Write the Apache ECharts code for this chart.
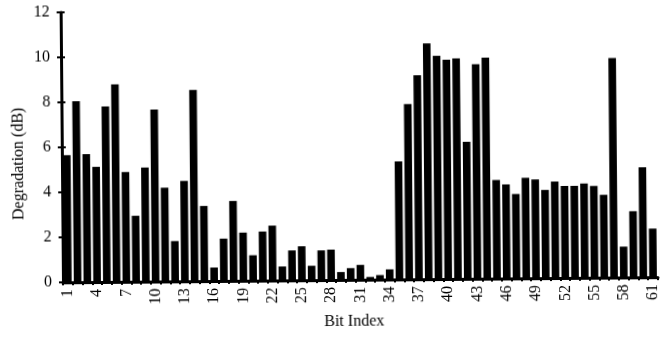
<!DOCTYPE html>
<html>
<head>
<meta charset="utf-8">
<script src="https://cdn.jsdelivr.net/npm/echarts@6/dist/echarts.min.js"></script>
<style>
  html, body { margin: 0; padding: 0; background: #fff; overflow: hidden; }
  #chart {
    position: absolute; left: 0; top: 0; width: 662px; height: 337px;
    transform: rotate(-0.5deg); transform-origin: 50% 50%;
  }
</style>
</head>
<body>
<div id="chart"></div>
<script>
// Bit positions along the x axis
const bitIndex = [
  '1','2','3','4','5','6','7','8','9','10',
  '11','12','13','14','15','16','17','18','19','20',
  '21','22','23','24','25','26','27','28','29','30',
  '31','32','33','34','35','36','37','38','39','40',
  '41','42','43','44','45','46','47','48','49','50',
  '51','52','53','54','55','56','57','58','59','60','61'
];

// Bits that carry a tick label
const labelledBits = ['1','4','7','10','13','16','19','22','25','28','31',
  '34','37','40','43','46','49','52','55','58','61'];

// Degradation per bit, in dB
const degradation = [
  5.65, 8.04, 5.69, 5.12, 7.80, 8.78, 4.88, 2.93, 5.07, 7.64,
  4.17, 1.79, 4.46, 8.50, 3.34, 0.60, 1.88, 3.55, 2.14, 1.13,
  2.18, 2.44, 0.62, 1.33, 1.51, 0.64, 1.32, 1.35, 0.35, 0.52,
  0.66, 0.12, 0.20, 0.45, 5.25, 7.79, 9.07, 10.48, 9.92, 9.75,
  9.80, 6.09, 9.53, 9.82, 4.38, 4.18, 3.75, 4.47, 4.39, 3.92,
  4.29, 4.09, 4.09, 4.19, 4.08, 3.68, 9.76, 1.37, 2.94, 4.89, 2.16
];

// Value axis range and step
const yMin = 0;
const yMax = 12;
const yStep = 2;

// Axis titles
const xTitle = 'Bit Index';
const yTitle = 'Degradation (dB)';

const FONT = '"Liberation Serif", "Times New Roman", serif';

const chart = echarts.init(document.getElementById('chart'), null, { renderer: 'canvas' });

const titles = [
  {
    id: 'xTitle',
    type: 'text',
    x: 353, y: 322,
    style: {
      text: xTitle, fill: '#000', font: '16px ' + FONT,
      textAlign: 'center', textVerticalAlign: 'middle'
    }
  },
  {
    id: 'yTitle',
    type: 'text',
    x: 19, y: 161,
    rotation: Math.PI / 2,
    style: {
      text: yTitle, fill: '#000', font: '16px ' + FONT,
      textAlign: 'center', textVerticalAlign: 'middle'
    }
  }
];

chart.setOption({
  animation: false,
  backgroundColor: '#fff',
  grid: { left: 62, right: 5, top: 10, bottom: 57, containLabel: false },
  xAxis: {
    type: 'category',
    data: bitIndex,
    boundaryGap: true,
    axisLine: { show: true, lineStyle: { color: '#000', width: 3 } },
    axisTick: { show: true, interval: 0, length: 3, lineStyle: { color: '#000', width: 2 } },
    // vertical bit labels are added below as rotated text at each category position
    axisLabel: { show: false },
    splitLine: { show: false }
  },
  yAxis: [
    {
      type: 'value',
      min: yMin, max: yMax, interval: yStep,
      axisLine: { show: true, lineStyle: { color: '#000', width: 3 } },
      axisTick: { show: true, length: 4, lineStyle: { color: '#000', width: 2 } },
      axisLabel: { margin: 11, color: '#000', fontFamily: FONT, fontSize: 16 },
      splitLine: { show: false }
    },
    {
      // inner half of the crossing tick marks
      type: 'value',
      position: 'left',
      min: yMin, max: yMax, interval: yStep,
      axisLine: { show: false },
      axisTick: { show: true, inside: true, length: 4, lineStyle: { color: '#000', width: 2 } },
      axisLabel: { show: false },
      splitLine: { show: false }
    }
  ],
  graphic: titles,
  series: [
    {
      type: 'bar',
      yAxisIndex: 0,
      data: degradation,
      barCategoryGap: '22%',
      itemStyle: { color: '#000' }
    }
  ]
});

// Rotated bit labels, placed through the category and value scales
const baseY = chart.convertToPixel({ yAxisIndex: 0 }, yMin);
const bitLabels = labelledBits.map(b => ({
  id: 'bit-' + b,
  type: 'text',
  x: chart.convertToPixel({ xAxisIndex: 0 }, b),
  y: baseY + 7,
  rotation: Math.PI / 2,
  style: {
    text: b, fill: '#000', font: '16px ' + FONT,
    textAlign: 'right', textVerticalAlign: 'middle'
  }
}));

chart.setOption({ graphic: titles.concat(bitLabels) });
</script>
</body>
</html>
